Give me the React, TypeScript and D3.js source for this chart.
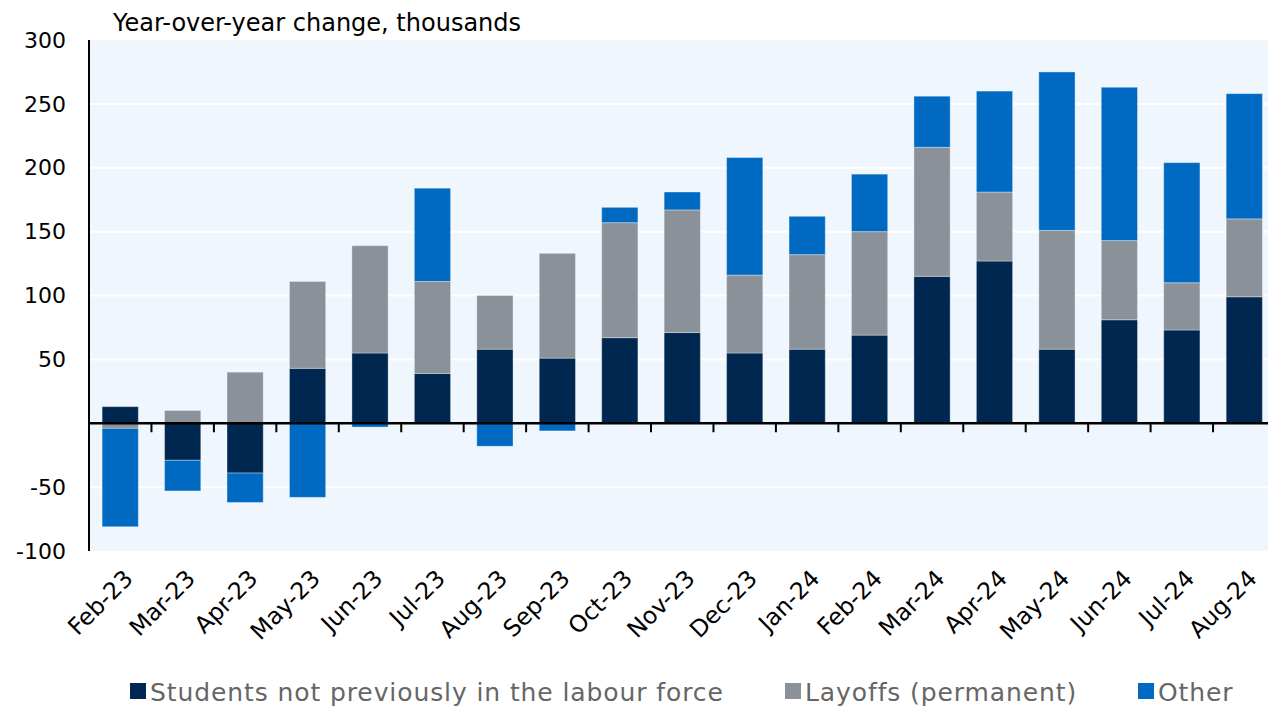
import React from "react";
import * as d3 from "d3";

const width = 1268;
const height = 707;
const margin = { top: 40, right: 0, bottom: 156, left: 89 };

const months = [
  "Feb-23", "Mar-23", "Apr-23", "May-23", "Jun-23", "Jul-23", "Aug-23", "Sep-23", "Oct-23", "Nov-23",
  "Dec-23", "Jan-24", "Feb-24", "Mar-24", "Apr-24", "May-24", "Jun-24", "Jul-24", "Aug-24",
];
const students = [13, -29, -39, 43, 55, 39, 58, 51, 67, 71, 55, 58, 69, 115, 127, 58, 81, 73, 99];
const layoffs = [-4, 10, 40, 68, 84, 72, 42, 82, 90, 96, 61, 74, 81, 101, 54, 93, 62, 37, 61];
const other = [-77, -24, -23, -58, -3, 73, -18, -6, 12, 14, 92, 30, 45, 40, 79, 124, 120, 94, 98];

const seriesKeys = ["students", "layoffs", "other"];
const seriesNames = ["Students not previously in the labour force", "Layoffs (permanent)", "Other"];
const colors = ["#00274f", "#8a9199", "#0069c2"];
const yTicks = [300, 250, 200, 150, 100, 50, -50, -100];
const gridTicks = [250, 200, 150, 100, 50, -50];

const font = "DejaVu Sans, sans-serif";

export default function App() {
  const rows = months.map((m, i) => ({
    month: m,
    students: students[i],
    layoffs: layoffs[i],
    other: other[i],
  }));

  const stacked = d3
    .stack<any>()
    .keys(seriesKeys)
    .offset(d3.stackOffsetDiverging)(rows);

  const x = d3
    .scaleBand()
    .domain(months)
    .range([margin.left, 1275.5])
    .paddingInner(0.42)
    .paddingOuter(0.21);
  const y = d3
    .scaleLinear()
    .domain([-100, 300])
    .range([height - margin.bottom, margin.top]);

  const step = x.step();
  const plotRight = width;

  return (
    <svg
      width={width}
      height={height}
      style={{ position: "absolute", left: 0, top: 0, background: "#fff" }}
    >
      <rect
        x={margin.left}
        y={y(300)}
        width={plotRight - margin.left}
        height={y(-100) - y(300)}
        fill="#eff6fd"
      />
      {gridTicks.map((t) => (
        <line key={t} x1={margin.left} x2={plotRight} y1={y(t)} y2={y(t)} stroke="#fff" strokeWidth={2} />
      ))}

      {stacked.map((s, si) => (
        <g key={s.key} fill={colors[si]}>
          {s.map((d, i) => (
            <rect
              key={i}
              x={x(months[i])}
              y={y(Math.max(d[0], d[1]))}
              width={x.bandwidth()}
              height={Math.abs(y(d[0]) - y(d[1]))}
              stroke="rgba(255,255,255,0.35)"
              strokeWidth={1}
            />
          ))}
        </g>
      ))}

      {/* axes */}
      <line x1={margin.left} x2={margin.left} y1={y(300)} y2={y(-100)} stroke="#000" strokeWidth={2} />
      <line x1={margin.left} x2={plotRight} y1={y(0)} y2={y(0)} stroke="#000" strokeWidth={2.5} />
      {months.slice(1).map((m) => (
        <line
          key={m}
          x1={(x(m) as number) - (step - x.bandwidth()) / 2}
          x2={(x(m) as number) - (step - x.bandwidth()) / 2}
          y1={y(0)}
          y2={y(0) + 9}
          stroke="#000"
          strokeWidth={2}
        />
      ))}

      {yTicks.map((t) => (
        <text
          key={t}
          x={66}
          y={y(t)}
          dy="0.35em"
          textAnchor="end"
          fontFamily={font}
          fontSize={22}
          fill="#000"
        >
          {t}
        </text>
      ))}

      {months.map((m) => {
        const cx = (x(m) as number) + x.bandwidth() / 2 + 14;
        const cy = 580;
        return (
          <text
            key={m}
            transform={`translate(${cx},${cy}) rotate(-45)`}
            textAnchor="end"
            fontFamily={font}
            fontSize={23.5}
            fill="#000"
          >
            {m}
          </text>
        );
      })}

      <text x={113} y={31} fontFamily={font} fontSize={24} fill="#000">
        Year-over-year change, thousands
      </text>

      {/* legend */}
      {[130, 785, 1138].map((lx, i) => (
        <g key={i}>
          <rect x={lx} y={683} width={16} height={16} fill={colors[i]} />
          <text x={lx + 20} y={701} fontFamily={font} fontSize={25} letterSpacing={0.9} fill="#666">
            {seriesNames[i]}
          </text>
        </g>
      ))}
    </svg>
  );
}
